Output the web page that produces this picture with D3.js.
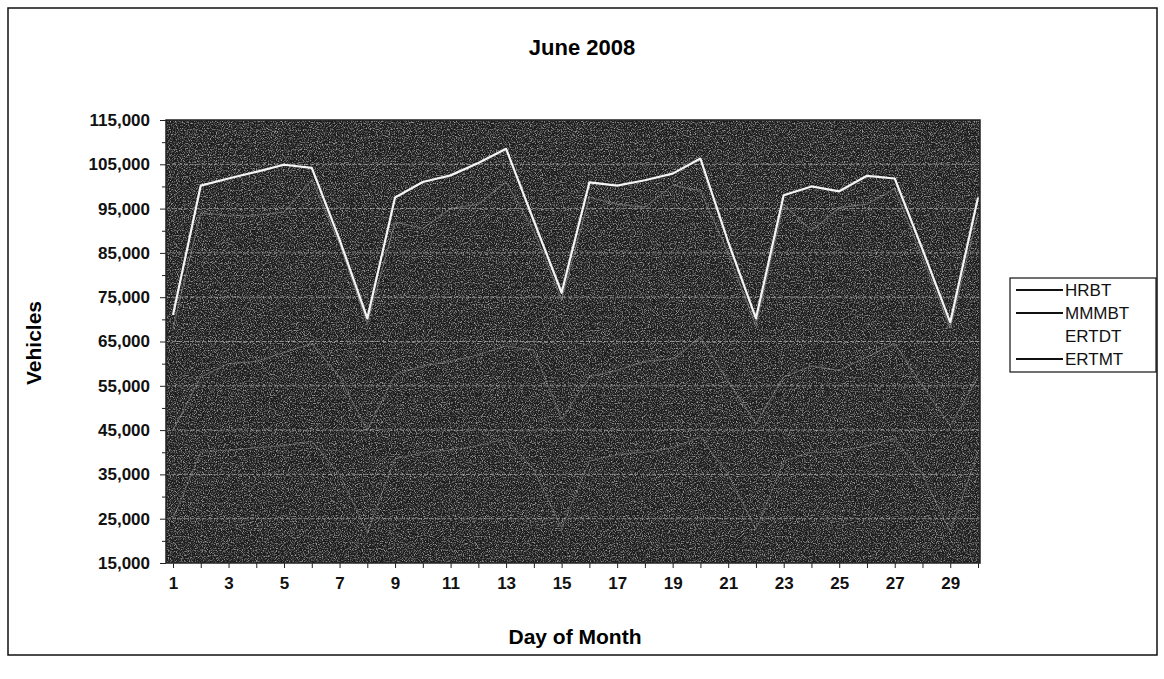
<!DOCTYPE html>
<html>
<head>
<meta charset="utf-8">
<script src="https://cdn.jsdelivr.net/npm/d3@7"></script>
<style>
  body { margin: 0; background: #fff; }
  text { font-family: "Liberation Sans", Arial, sans-serif; }
</style>
</head>
<body>
<div id="chart"></div>
<script>
// daily vehicle counts, june 2008
var days = [1,2,3,4,5,6,7,8,9,10,11,12,13,14,15,16,17,18,19,20,21,22,23,24,25,26,27,28,29,30];
var dayLabels = [1,3,5,7,9,11,13,15,17,19,21,23,25,27,29];
var yTicks = [15000,25000,35000,45000,55000,65000,75000,85000,95000,105000,115000];

var hrbt  = [68000,94000,93500,93500,94200,101500,87000,69000,92000,90500,95000,96000,101000,90000,74500,97500,96000,95300,100300,99000,85000,68500,96000,90000,95200,96000,99500,84000,68000,94000];
var mmmbt = [45000,57000,60000,60500,62500,64500,57000,45000,57500,59500,60500,62000,64000,63000,47500,57000,58500,60500,61000,66000,56000,46500,57000,59500,58500,61500,64500,55000,46000,57000];
var ertdt = [71000,100200,101800,103300,104900,104200,88000,70200,97500,101000,102500,105300,108500,92200,76000,100900,100200,101400,102900,106300,87500,70200,98000,100000,98900,102400,101800,85800,69300,97500];
var ertmt = [25000,40000,40500,41000,41500,42500,35000,22000,38500,40000,40500,41500,43000,36000,23000,38000,39500,40000,41000,43500,35000,22500,38000,40000,40000,41500,43000,35000,22000,40000];

var seriesNames = ['HRBT','MMMBT','ERTDT','ERTMT'];
var seriesData  = [hrbt, mmmbt, ertdt, ertmt];

var W = 1164, H = 679;
var plot = {left: 166, right: 980, top: 120, bottom: 563};

var svg = d3.select('#chart').append('svg')
    .attr('width', W)
    .attr('height', H);

// speckle texture for the scanned-looking plot area
var defs = svg.append('defs');
var f = defs.append('filter').attr('id', 'speckle')
    .attr('x', 0).attr('y', 0).attr('width', 1).attr('height', 1);
f.append('feTurbulence')
    .attr('type', 'fractalNoise')
    .attr('baseFrequency', 0.85)
    .attr('numOctaves', 2)
    .attr('seed', 7);
f.append('feColorMatrix')
    .attr('type', 'matrix')
    .attr('values', '0 0 0 0 1  0 0 0 0 1  0 0 0 0 1  3.2 0 0 0 -1.45');
f.append('feComposite').attr('in2', 'SourceGraphic').attr('operator', 'in');

// outer border
svg.append('rect')
    .attr('x', 8).attr('y', 8)
    .attr('width', 1149).attr('height', 647)
    .attr('fill', 'none')
    .attr('stroke', '#111')
    .attr('stroke-width', 1.5);

var x = d3.scaleLinear().domain([1, 30]).range([173, 978]);
var y = d3.scaleLinear().domain([15000, 115000]).range([plot.bottom, plot.top]);

// plot background
svg.append('rect')
    .attr('x', plot.left).attr('y', plot.top)
    .attr('width', plot.right - plot.left)
    .attr('height', plot.bottom - plot.top)
    .attr('fill', '#1c1c1c');
svg.append('rect')
    .attr('x', plot.left).attr('y', plot.top)
    .attr('width', plot.right - plot.left)
    .attr('height', plot.bottom - plot.top)
    .attr('fill', '#fff')
    .attr('opacity', 0.55)
    .attr('filter', 'url(#speckle)');

// gridlines
svg.append('g').selectAll('line')
    .data(yTicks.slice(1, -1))
    .enter().append('line')
    .attr('x1', plot.left).attr('x2', plot.right)
    .attr('y1', function(d) { return y(d); })
    .attr('y2', function(d) { return y(d); })
    .attr('stroke', '#c8c8c8')
    .attr('stroke-opacity', 0.55)
    .attr('stroke-dasharray', '4,2');

// lines
var line = d3.line()
    .x(function(d, i) { return x(days[i]); })
    .y(function(d) { return y(d); });

var lineStyle = [
  {stroke: '#9a9a9a', width: 1.2, opacity: 0.5},
  {stroke: '#9a9a9a', width: 1.2, opacity: 0.45},
  {stroke: '#f4f4f4', width: 2.2, opacity: 1},
  {stroke: '#9a9a9a', width: 1.2, opacity: 0.4}
];

var clip = defs.append('clipPath').attr('id', 'plotclip');
clip.append('rect')
    .attr('x', plot.left).attr('y', plot.top)
    .attr('width', plot.right - plot.left)
    .attr('height', plot.bottom - plot.top);

svg.append('g').attr('clip-path', 'url(#plotclip)')
  .selectAll('path')
    .data(seriesData)
    .enter().append('path')
    .attr('d', line)
    .attr('fill', 'none')
    .attr('stroke', function(d, i) { return lineStyle[i].stroke; })
    .attr('stroke-width', function(d, i) { return lineStyle[i].width; })
    .attr('stroke-opacity', function(d, i) { return lineStyle[i].opacity; })
    .attr('stroke-linejoin', 'round');

// plot frame
svg.append('rect')
    .attr('x', plot.left).attr('y', plot.top)
    .attr('width', plot.right - plot.left)
    .attr('height', plot.bottom - plot.top)
    .attr('fill', 'none')
    .attr('stroke', '#222')
    .attr('stroke-width', 1.5);

// y axis
var yMinor = svg.append('g')
    .attr('transform', 'translate(' + plot.left + ',0)')
    .call(d3.axisLeft(y).tickValues(d3.range(20000, 115000, 10000)).tickSize(4).tickFormat(''));
yMinor.select('.domain').remove();

var yAxis = svg.append('g')
    .attr('transform', 'translate(' + plot.left + ',0)')
    .call(d3.axisLeft(y).tickValues(yTicks).tickSize(6).tickPadding(10).tickFormat(d3.format(',')));
yAxis.select('.domain').remove();
yAxis.selectAll('text')
    .attr('font-size', 17)
    .attr('font-weight', 'bold')
    .attr('fill', '#111');

// x axis
var xTicks = svg.append('g')
    .attr('transform', 'translate(0,' + plot.bottom + ')')
    .call(d3.axisBottom(x).tickValues(days).tickSize(5).tickFormat(''));
xTicks.select('.domain').remove();

var xAxis = svg.append('g')
    .attr('transform', 'translate(0,' + plot.bottom + ')')
    .call(d3.axisBottom(x).tickValues(dayLabels).tickSize(0).tickPadding(14).tickFormat(d3.format('d')));
xAxis.select('.domain').remove();
xAxis.selectAll('text')
    .attr('font-size', 17)
    .attr('font-weight', 'bold')
    .attr('fill', '#111');

svg.selectAll('.tick line').attr('stroke', '#222');

// titles
svg.append('text')
    .attr('x', 582).attr('y', 55)
    .attr('text-anchor', 'middle')
    .attr('font-size', 22)
    .attr('font-weight', 'bold')
    .text('June 2008');

svg.append('text')
    .attr('transform', 'translate(41,343) rotate(-90)')
    .attr('text-anchor', 'middle')
    .attr('font-size', 21)
    .attr('font-weight', 'bold')
    .text('Vehicles');

svg.append('text')
    .attr('x', 575).attr('y', 644)
    .attr('text-anchor', 'middle')
    .attr('font-size', 21)
    .attr('font-weight', 'bold')
    .text('Day of Month');

// legend
var legend = svg.append('g');
legend.append('rect')
    .attr('x', 1010).attr('y', 278)
    .attr('width', 146).attr('height', 94)
    .attr('fill', '#fff')
    .attr('stroke', '#111')
    .attr('stroke-width', 1.2);

var legendColors = ['#111', '#111', '#fff', '#111'];
var item = legend.selectAll('.item')
    .data(seriesNames)
    .enter().append('g')
    .attr('class', 'item')
    .attr('transform', function(d, i) { return 'translate(0,' + (290 + i * 23) + ')'; });
item.append('line')
    .attr('x1', 1016).attr('x2', 1063)
    .attr('stroke', function(d, i) { return legendColors[i]; })
    .attr('stroke-width', 2);
item.append('text')
    .attr('x', 1065).attr('y', 6)
    .attr('font-size', 17)
    .attr('fill', '#111')
    .text(function(d) { return d; });
</script>
</body>
</html>
